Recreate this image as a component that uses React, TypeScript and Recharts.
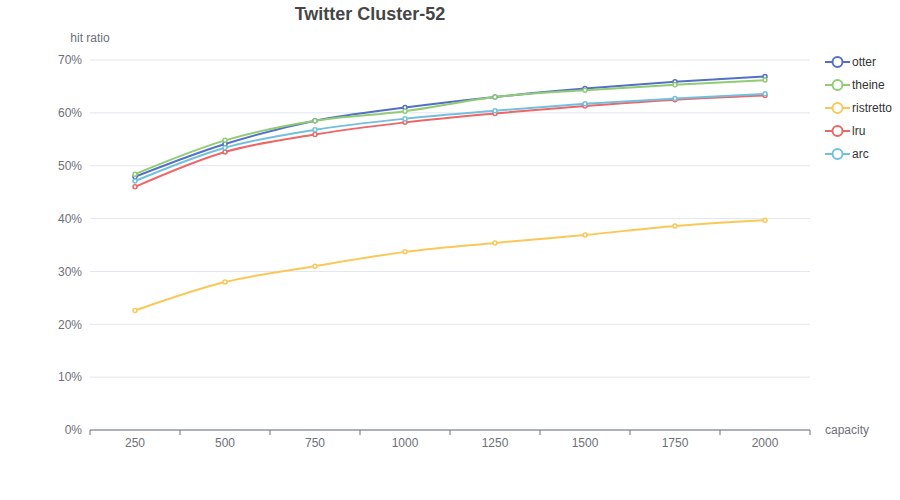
import { LineChart, Line, XAxis, YAxis, CartesianGrid } from "recharts";

const capacities = ["250", "500", "750", "1000", "1250", "1500", "1750", "2000"];
const otter = [47.9, 54.1, 58.5, 61.0, 63.0, 64.6, 65.9, 66.9];
const theine = [48.4, 54.8, 58.5, 60.3, 63.0, 64.3, 65.3, 66.2];
const ristretto = [22.6, 28.0, 31.0, 33.7, 35.4, 36.9, 38.6, 39.7];
const lru = [46.0, 52.6, 55.9, 58.2, 59.9, 61.3, 62.5, 63.3];
const arc = [47.1, 53.4, 56.8, 58.9, 60.4, 61.7, 62.7, 63.6];
const yTicks = [0, 10, 20, 30, 40, 50, 60, 70];

const series = [
  { key: "otter", color: "#5470c6", values: otter },
  { key: "theine", color: "#91cc75", values: theine },
  { key: "ristretto", color: "#fac858", values: ristretto },
  { key: "lru", color: "#ee6666", values: lru },
  { key: "arc", color: "#73c0de", values: arc },
];

const data = capacities.map((c, i) => {
  const row: Record<string, string | number> = { capacity: c };
  series.forEach((s) => (row[s.key] = s.values[i]));
  return row;
});

const FONT = "'Liberation Sans', Arial, sans-serif";
const AXIS = "#6e7079";
const AXIS_Y = 430;

// label in the middle of the band, tick marks on the band edges
function XTick(props: any) {
  const { x, payload, index } = props;
  const half = 45;
  return (
    <g>
      <line x1={x - half} x2={x - half} y1={AXIS_Y} y2={AXIS_Y + 5} stroke={AXIS} />
      {index === capacities.length - 1 && (
        <line x1={x + half} x2={x + half} y1={AXIS_Y} y2={AXIS_Y + 5} stroke={AXIS} />
      )}
      <text x={x} y={AXIS_Y + 17} textAnchor="middle" fill={AXIS} fontSize={12} fontFamily={FONT}>
        {payload.value}
      </text>
    </g>
  );
}

function LegendBox() {
  return (
    <div style={{ position: "absolute", left: 825, top: 50, fontFamily: FONT, fontSize: 12, color: "#333" }}>
      {series.map((s) => (
        <div key={s.key} style={{ display: "flex", alignItems: "center", height: 23 }}>
          <svg width={25} height={14} style={{ marginRight: 2 }}>
            <line x1={0} x2={25} y1={7} y2={7} stroke={s.color} strokeWidth={2} />
            <circle cx={12.5} cy={7} r={5} fill="#fff" stroke={s.color} strokeWidth={2} />
          </svg>
          <span>{s.key}</span>
        </div>
      ))}
    </div>
  );
}

export default function App() {
  return (
    <div style={{ position: "absolute", left: 0, top: 0, width: 900, height: 500, background: "#fff" }}>
      <div
        style={{
          position: "absolute",
          top: 4,
          left: 370,
          transform: "translateX(-50%)",
          fontFamily: FONT,
          fontWeight: "bold",
          fontSize: 18,
          color: "#464646",
          whiteSpace: "nowrap",
        }}
      >
        Twitter Cluster-52
      </div>
      <LineChart width={900} height={500} data={data} margin={{ top: 60, right: 90, left: 38, bottom: 40 }}>
        <CartesianGrid vertical={false} stroke="#e0e6f1" />
        <XAxis
          dataKey="capacity"
          stroke={AXIS}
          tickLine={false}
          tick={<XTick />}
          interval={0}
          padding={{ left: 45, right: 45 }}
          label={(p: any) => {
            const vb = p.viewBox;
            return (
              <text x={vb.x + vb.width + 15} y={vb.y + 4} fill={AXIS} fontSize={12} fontFamily={FONT}>
                capacity
              </text>
            );
          }}
        />
        <YAxis
          width={52}
          domain={[0, 70]}
          ticks={yTicks}
          axisLine={false}
          tickLine={false}
          tickSize={0}
          tickMargin={8}
          tickFormatter={(v: number) => `${v}%`}
          tick={{ fill: AXIS, fontSize: 12, fontFamily: FONT }}
          label={(p: any) => {
            const vb = p.viewBox;
            return (
              <text x={vb.x + vb.width} y={vb.y - 18} textAnchor="middle" fill={AXIS} fontSize={12} fontFamily={FONT}>
                hit ratio
              </text>
            );
          }}
        />
        {series.map((s) => (
          <Line
            key={s.key}
            type="monotone"
            dataKey={s.key}
            stroke={s.color}
            strokeWidth={2}
            dot={{ r: 2, fill: "#fff", stroke: s.color, strokeWidth: 1.5 }}
            activeDot={false}
            isAnimationActive={false}
          />
        ))}
      </LineChart>
      <LegendBox />
    </div>
  );
}
